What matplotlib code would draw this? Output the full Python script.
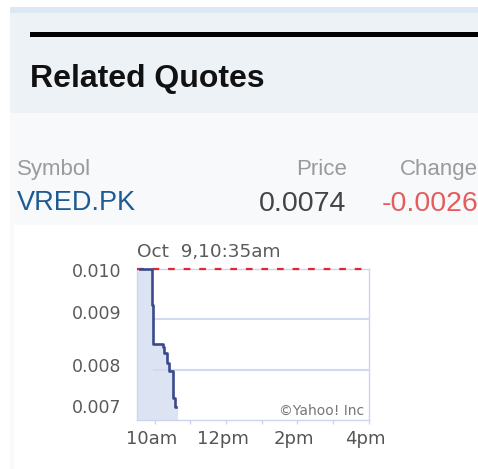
import matplotlib
matplotlib.use("Agg")
import matplotlib.pyplot as plt
from matplotlib.patches import Rectangle
from matplotlib.transforms import ScaledTranslation

# ---- data ----
symbol = "VRED.PK"
price_text = "0.0074"
change_text = "-0.0026"
chart_title = "Oct  9,10:35am"
prev_close = 0.0100
times = [9.58, 9.91, 9.96, 10.24, 10.27, 10.33, 10.41, 10.52, 10.57, 10.60]
prices = [0.0100, 0.00928, 0.00851, 0.00846, 0.00833, 0.00813, 0.00798, 0.00743, 0.00726, 0.00726]
fill_times = [9.50, 9.91, 9.96, 10.24, 10.27, 10.33, 10.41, 10.52, 10.57, 10.65]
fill_prices = [0.0100, 0.00928, 0.00851, 0.00846, 0.00833, 0.00813, 0.00798, 0.00743, 0.00726, 0.00726]
y_ticks = [0.007, 0.008, 0.009, 0.010]
y_tick_labels = ["0.007", "0.008", "0.009", "0.010"]
x_ticks = [10, 12, 14, 16]
x_tick_labels = ["10am", "12pm", "2pm", "4pm"]
x_minor = [11, 13, 15]
grid_levels = [0.008, 0.009]

W, H = 478, 469
fig = plt.figure(figsize=(W / 100, H / 100), dpi=100)
fig.patch.set_facecolor("white")

# ---- page background ----
bg = fig.add_axes([0, 0, 1, 1])
bg.set_xlim(0, W)
bg.set_ylim(H, 0)
bg.axis("off")
bg.add_patch(Rectangle((10, 7), W - 10, 6, color="#dce9f4", lw=0))
bg.add_patch(Rectangle((10, 13), W - 10, 100, color="#edf2f6", lw=0))
bg.add_patch(Rectangle((10, 113), W - 10, 112, color="#f7f9fb", lw=0))
bg.add_patch(Rectangle((10, 225), 4, H - 225, color="#f7f9fb", lw=0))
bg.add_patch(Rectangle((30, 32.5), W - 30, 5, color="#000000", lw=0))

sans = ["Liberation Sans", "DejaVu Sans"]
bg.text(30, 86.5, "Related Quotes", fontsize=23, fontweight="bold", color="#111111",
        family=sans, va="baseline", ha="left")
bg.text(17, 175, "Symbol", fontsize=16, color="#9a9a9a", family=sans, va="baseline", ha="left")
bg.text(347, 175, "Price", fontsize=16, color="#9a9a9a", family=sans, va="baseline", ha="right")
bg.text(400, 175, "Change", fontsize=16, color="#9a9a9a", family=sans, va="baseline", ha="left")
bg.text(17, 210, symbol, fontsize=19.5, color="#1e5a94", family=sans, va="baseline", ha="left")
bg.text(346, 211, price_text, fontsize=20.5, color="#444444", family=sans, va="baseline", ha="right")
bg.text(382, 211, change_text, fontsize=20.5, color="#e65c5c", family=sans, va="baseline", ha="left")

# ---- chart ----
L, R, T, B = 137, 368.5, 269, 420
ax = fig.add_axes([L / W, 1 - B / H, (R - L) / W, (B - T) / H])
ax.set_facecolor("white")
ax.set_xlim(9.5, 16)
ax.set_ylim(0.0070, 0.0100)

ax.fill_between(fill_times, fill_prices, 0.0070, step="post", color="#dce3f3", lw=0, zorder=2)
for g in grid_levels:
    ax.axhline(g, xmin=0.072, xmax=1, color="#d3daef", lw=1.5, zorder=3)
ax.axhline(prev_close, color="#e3262b", lw=1.6, ls=(0, (3, 4)), zorder=3.5, clip_on=False)
ax.plot(times, prices, drawstyle="steps-post", color="#3b4a8c", lw=1.9, zorder=4, clip_on=False)

for s in ax.spines.values():
    s.set_color("#cdd5ee")
    s.set_linewidth(1.0)

chart_font = "DejaVu Sans"
ax.set_yticks(y_ticks)
ax.set_yticklabels(y_tick_labels, fontsize=12.5, color="#5a5a5a", family=chart_font)
ax.tick_params(axis="y", length=0, pad=11)
y_offsets = {"0.007": 14, "0.008": 5, "0.009": 7, "0.010": -1}
for lab in ax.get_yticklabels():
    dy = y_offsets.get(lab.get_text(), 0)
    lab.set_transform(lab.get_transform() + ScaledTranslation(0, dy / 100, fig.dpi_scale_trans))

ax.set_xticks(x_ticks)
ax.set_xticks(x_minor, minor=True)
ax.set_xticklabels(x_tick_labels, fontsize=13, color="#555555", family=chart_font)
ax.tick_params(axis="x", which="both", direction="out", length=3, width=1, color="#cdd5ee", pad=4)
for lab in ax.get_xticklabels():
    lab.set_transform(lab.get_transform() + ScaledTranslation(-3 / 100, 0, fig.dpi_scale_trans))

ax.text(0, 1.0, chart_title, transform=ax.transAxes + ScaledTranslation(0, 8 / 100, fig.dpi_scale_trans),
        fontsize=13.3, color="#5a5a5a", family=chart_font, ha="left", va="bottom")
ax.text(0.98, 0.06, "©Yahoo! Inc", transform=ax.transAxes, fontsize=10, color="#777777",
        family=chart_font, ha="right", va="center")

fig.savefig("out.png", dpi=100, facecolor="white")
